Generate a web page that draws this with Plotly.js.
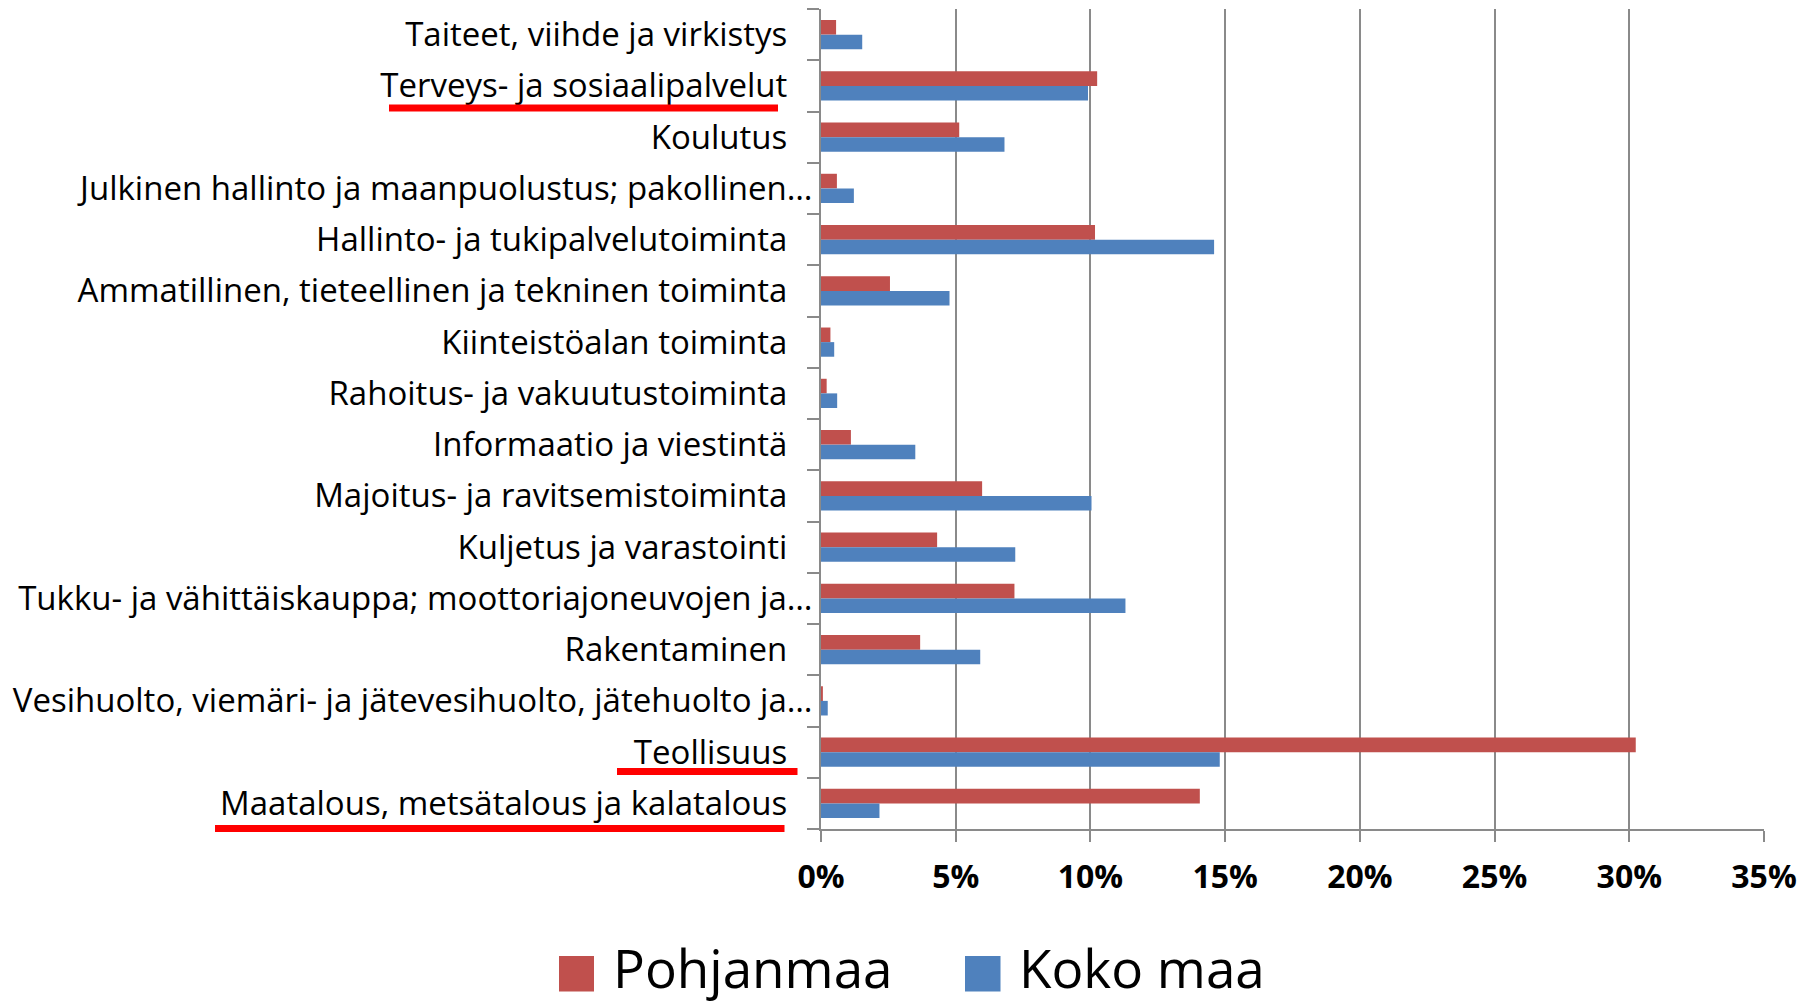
<!DOCTYPE html>
<html>
<head>
<meta charset="utf-8">
<script src="https://cdn.plot.ly/plotly-3.0.1.min.js"></script>
<style>html,body{margin:0;padding:0;background:#fff;}#chart{width:1816px;height:1003px;}</style>
</head>
<body>
<div id="chart"></div>
<script>
// Categories, top to bottom as in the chart
const categories = [
  "Taiteet, viihde ja virkistys",
  "Terveys- ja sosiaalipalvelut",
  "Koulutus",
  "Julkinen hallinto ja maanpuolustus; pakollinen…",
  "Hallinto- ja tukipalvelutoiminta",
  "Ammatillinen, tieteellinen ja tekninen toiminta",
  "Kiinteistöalan toiminta",
  "Rahoitus- ja vakuutustoiminta",
  "Informaatio ja viestintä",
  "Majoitus- ja ravitsemistoiminta",
  "Kuljetus ja varastointi",
  "Tukku- ja vähittäiskauppa; moottoriajoneuvojen ja…",
  "Rakentaminen",
  "Vesihuolto, viemäri- ja jätevesihuolto, jätehuolto ja…",
  "Teollisuus",
  "Maatalous, metsätalous ja kalatalous"
];
const seriesNames = ["Pohjanmaa", "Koko maa"];
const pohjanmaa = [0.56, 10.25, 5.13, 0.59, 10.17, 2.56, 0.35, 0.21, 1.11, 5.98, 4.31, 7.18, 3.68, 0.07, 30.24, 14.06];
const kokoMaa   = [1.53, 9.91, 6.81, 1.22, 14.59, 4.77, 0.49, 0.60, 3.50, 10.04, 7.21, 11.30, 5.91, 0.25, 14.80, 2.17];
const underlined = ["Terveys- ja sosiaalipalvelut", "Teollisuus", "Maatalous, metsätalous ja kalatalous"];
const xTicks = [0, 5, 10, 15, 20, 25, 30, 35];

const colors = ["#C0504D", "#4F81BD"];
const W = 1816, H = 1003;
const M = {l: 821, r: 52, t: 9, b: 174};
const pw = W - M.l - M.r, ph = H - M.t - M.b;
const px = x => (x - M.l) / pw;
const py = y => (H - M.b - y) / ph;

// pad labels that are not truncated so the ellipsis hangs past them
const tickText = categories.map(c => c.endsWith("…") ? c : c + "\u2002\u00a0");

const traces = [
  {type: "bar", orientation: "h", name: seriesNames[0], y: categories, x: pohjanmaa,
   marker: {color: colors[0]}, showlegend: false, hoverinfo: "x+y"},
  {type: "bar", orientation: "h", name: seriesNames[1], y: categories, x: kokoMaa,
   marker: {color: colors[1]}, showlegend: false, hoverinfo: "x+y"}
];

const shapes = [];
const annotations = [];
// legend drawn large like the original
const legendItems = [
  {sq: [559, 594], tx: 611},
  {sq: [965, 1000.5], tx: 1017}
];
legendItems.forEach((it, i) => {
  shapes.push({type: "rect", xref: "paper", yref: "paper",
    x0: px(it.sq[0]), x1: px(it.sq[1]), y0: py(956), y1: py(991.5),
    fillcolor: colors[i], line: {width: 0}, layer: "above"});
  annotations.push({xref: "paper", yref: "paper", x: px(it.tx), y: py(968),
    xanchor: "left", yanchor: "middle", showarrow: false, text: seriesNames[i],
    font: {family: "Open Sans", size: 53, color: "#000"}});
});
// red underlines beneath highlighted labels
const underlinePos = {
  "Terveys- ja sosiaalipalvelut": [389, 778, 108],
  "Teollisuus": [617, 797.5, 771.5],
  "Maatalous, metsätalous ja kalatalous": [215, 784.5, 828.5]
};
underlined.forEach(c => {
  const p = underlinePos[c];
  shapes.push({type: "line", xref: "paper", yref: "paper",
    x0: px(p[0]), x1: px(p[1]), y0: py(p[2]), y1: py(p[2]),
    line: {color: "#FF0000", width: 7}, layer: "above"});
});

const layout = {
  width: W, height: H,
  margin: M,
  paper_bgcolor: "#fff", plot_bgcolor: "#fff",
  barmode: "group", bargap: 0.43, bargroupgap: 0,
  font: {family: "Open Sans", color: "#000"},
  xaxis: {
    range: [0, 35], tickvals: xTicks, ticktext: xTicks.map(v => v + "%"),
    showgrid: true, gridcolor: "#8A8A8A", gridwidth: 2, zeroline: false,
    showline: true, linecolor: "#8A8A8A", linewidth: 2,
    ticks: "outside", ticklen: 11, tickwidth: 2, tickcolor: "#8A8A8A",
    ticklabelstandoff: 8,
    tickfont: {family: "Open Sans", size: 32, color: "#000", weight: "bold"},
    fixedrange: true
  },
  yaxis: {
    type: "category", autorange: "reversed",
    tickmode: "array", tickvals: categories, ticktext: tickText,
    showgrid: false, zeroline: false,
    showline: true, linecolor: "#8A8A8A", linewidth: 2,
    ticks: "outside", ticklen: 12, tickwidth: 2, tickcolor: "#8A8A8A",
    tickson: "boundaries", ticklabelstandoff: 0,
    tickfont: {family: "Open Sans", size: 33, color: "#000"},
    fixedrange: true
  },
  shapes: shapes,
  annotations: annotations
};

Plotly.newPlot("chart", traces, layout, {displayModeBar: false, staticPlot: true});
</script>
</body>
</html>
